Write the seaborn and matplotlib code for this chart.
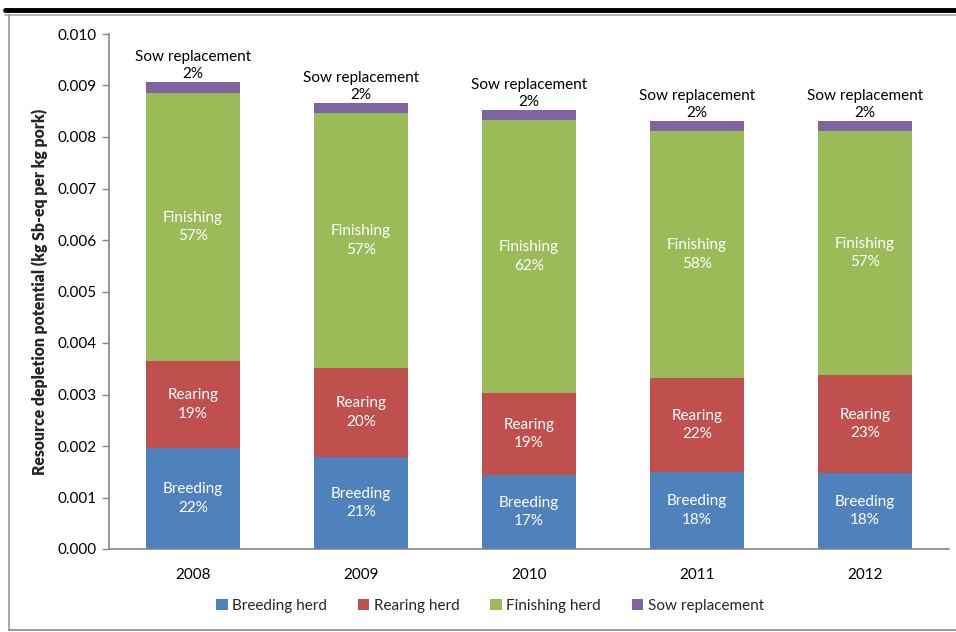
import numpy as np
import pandas as pd
import matplotlib
matplotlib.use("Agg")
import matplotlib.pyplot as plt
from matplotlib.lines import Line2D
from matplotlib.patches import Patch
import seaborn as sns

years = ["2008", "2009", "2010", "2011", "2012"]
breeding = [0.00196, 0.00179, 0.00144, 0.00150, 0.00148]
rearing = [0.00169, 0.00172, 0.00159, 0.00182, 0.00190]
finishing = [0.00520, 0.00496, 0.00530, 0.00480, 0.00474]
sow = [0.00022, 0.00019, 0.00019, 0.00019, 0.00019]

series = ["Breeding herd", "Rearing herd", "Finishing herd", "Sow replacement"]
short = ["Breeding", "Rearing", "Finishing", "Sow replacement"]
colors = ["#4F81BD", "#C0504D", "#9BBB59", "#8064A2"]

sns.set_theme(style="white")
plt.rcParams["font.family"] = ["Lato", "DejaVu Sans"]

FS = 11

df = pd.DataFrame({"year": years, series[0]: breeding, series[1]: rearing,
                   series[2]: finishing, series[3]: sow})
totals = df[series].sum(axis=1).to_numpy()

fig = plt.figure(figsize=(9.56, 6.32), dpi=100)
ax = fig.add_axes([109 / 956, 1 - 549 / 632, (949 - 109) / 956, (549 - 34) / 632])

bottom = np.zeros(len(years))
for i, name in enumerate(series):
    vals = df[name].to_numpy()
    sns.barplot(data=df, x="year", y=name, bottom=bottom, color=colors[i],
                width=0.565, saturation=1, ax=ax, linewidth=0)
    for j in range(len(years)):
        pct = f"{round(vals[j] / totals[j] * 100):.0f}%"
        if i < 3:
            ax.text(j, bottom[j] + vals[j] / 2, f"{short[i]}\n{pct}",
                    ha="center", va="center", color="white", fontsize=FS,
                    linespacing=1.4)
        else:
            ax.annotate(f"{short[i]}\n{pct}", (j, bottom[j] + vals[j]),
                        xytext=(0, 1), textcoords="offset points",
                        ha="center", va="bottom", color="black", fontsize=FS,
                        linespacing=1.25)
    bottom = bottom + vals

ax.set_ylim(0, 0.010)
ax.set_xlim(-0.5, len(years) - 0.5)
ax.set_yticks(np.arange(0, 0.0101, 0.001))
ax.set_yticklabels([f"{v:.3f}" for v in np.arange(0, 0.0101, 0.001)])
ax.set_xlabel("")
ax.set_ylabel("Resource depletion potential (kg Sb-eq per kg pork)",
              fontsize=11.3, fontweight="heavy", labelpad=7)
ax.tick_params(axis="y", which="both", left=True, length=5, width=1,
               color="#868686", labelsize=FS, pad=4, labelcolor="black")
ax.tick_params(axis="x", bottom=False, labelsize=FS, pad=8, labelcolor="black")
for s in ["top", "right"]:
    ax.spines[s].set_visible(False)
for s in ["left", "bottom"]:
    ax.spines[s].set_color("#868686")
    ax.spines[s].set_linewidth(1.2)
ax.grid(False)

handles = [Patch(facecolor=c, edgecolor="none") for c in colors]
fig.legend(handles, series, loc="center", bbox_to_anchor=(490 / 956, 1 - 606 / 632),
           ncol=4, frameon=False, fontsize=FS, handlelength=0.75, handleheight=0.75,
           handletextpad=0.3, columnspacing=2.0)

# page rules and chart frame
fig.add_artist(Line2D([5 / 956, 1], [1 - 10 / 632, 1 - 10 / 632],
                      transform=fig.transFigure, color="black", linewidth=3.5))
fig.add_artist(Line2D([5 / 956, 1], [1 - 14.5 / 632, 1 - 14.5 / 632],
                      transform=fig.transFigure, color="#A6A6A6", linewidth=1.2))
fig.add_artist(Line2D([9 / 956, 9 / 956], [1 - 15 / 632, 1 - 630 / 632],
                      transform=fig.transFigure, color="#9A9A9A", linewidth=1.2))
fig.add_artist(Line2D([9 / 956, 1], [1 - 630 / 632, 1 - 630 / 632],
                      transform=fig.transFigure, color="#8A8A8A", linewidth=1.2))

fig.savefig("out.png", dpi=100)
